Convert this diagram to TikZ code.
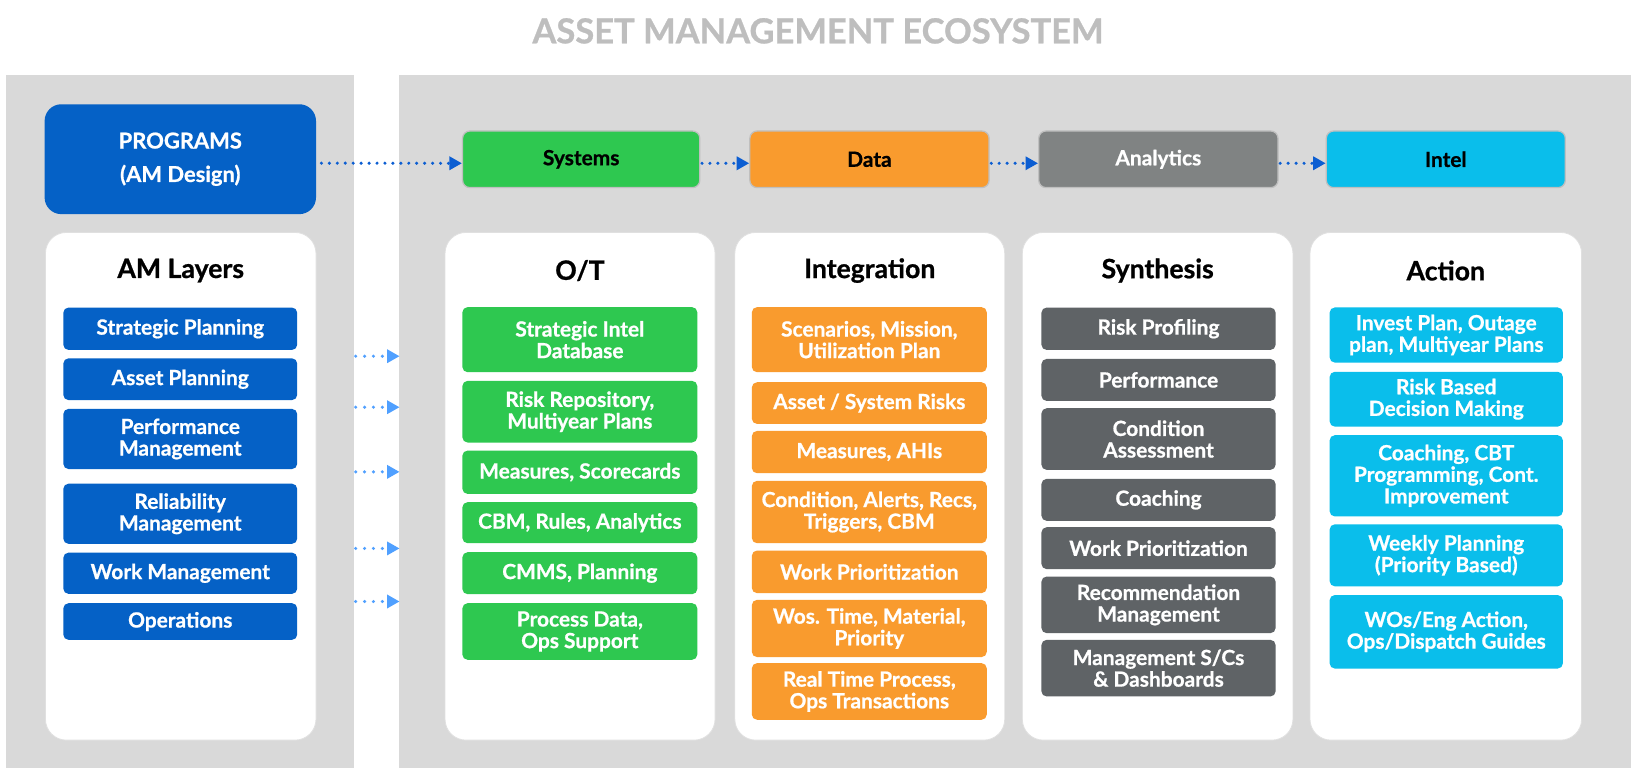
\documentclass[tikz,border=0pt]{standalone}
\usepackage{fontspec}
\setmainfont{Lato}[BoldFeatures={FakeBold=0.8}]
\usetikzlibrary{arrows.meta}
\definecolor{panelgray}{RGB}{217,217,217}
\definecolor{progblue}{RGB}{5,97,198}
\definecolor{amgreen}{RGB}{46,200,80}
\definecolor{amorange}{RGB}{249,155,46}
\definecolor{amgray}{RGB}{128,131,131}
\definecolor{amdark}{RGB}{95,99,102}
\definecolor{amcyan}{RGB}{10,190,235}
\definecolor{titlegray}{RGB}{190,190,190}
\definecolor{arrowblue}{RGB}{12,94,210}
\definecolor{lightarrow}{RGB}{80,160,255}
\newcommand\mkbox[7]{%
  \node[#2, minimum width={#5pt-#3pt}, minimum height={#6pt-#4pt}] (#1) at ({(#3+#5)/2},{(#4+#6)/2}) {#7};}
\tikzset{
  inner/.style={rounded corners=5pt, inner sep=0pt, align=center, text=white,
    font=\bfseries\fontsize{20}{20.7}\selectfont},
  layerbox/.style={inner, fill=progblue},
  otbox/.style={inner, fill=amgreen},
  intbox/.style={inner, fill=amorange},
  synbox/.style={inner, fill=amdark},
  actbox/.style={inner, fill=amcyan},
  topbox/.style={rounded corners=7pt, inner sep=0pt, align=center, draw=black!25, line width=1.2pt,
    font=\bfseries\fontsize{20}{22}\selectfont},
  whitebox/.style={rounded corners=20pt, inner sep=0pt, fill=white, draw=black!12, line width=0.8pt},
  heading/.style={font=\bfseries\fontsize{25.5}{28}\selectfont, text=black, inner sep=0pt},
  dotarrow/.style={draw=arrowblue, line width=3.3pt, line cap=round, dash pattern=on 0pt off 7.6pt,
    -{Triangle[length=12pt,width=12.5pt]}},
  lightdot/.style={dotarrow, draw=lightarrow, dash pattern=on 0pt off 8.5pt},
}
\begin{document}
\begin{tikzpicture}[x=1pt,y=-1pt]
\fill[white] (0,0) rectangle (1568,742.8);
\useasboundingbox (0,0) rectangle (1568,742.8);
% title
\node[anchor=base, inner sep=0pt, text=titlegray, font=\bfseries\fontsize{33}{38}\selectfont] (title) at (783,41.5) {ASSET MANAGEMENT ECOSYSTEM};
% gray panels
\fill[panelgray] (5.7,71.8) rectangle (338.8,735.5);
\fill[panelgray] (382,71.8) rectangle (1561.5,735.5);
% programs
\mkbox{prog}{rounded corners=16pt, inner sep=0pt, fill=progblue, text=white, align=center, font=\bfseries\fontsize{21}{22}\selectfont}{42.7}{99.8}{302.5}{205}{PROGRAMS\\[10pt](AM Design)}
% top boxes
\mkbox{sys}{topbox, fill=amgreen, text=black}{442.8}{125.4}{669.9}{179.6}{Systems}
\mkbox{data}{topbox, fill=amorange, text=black}{717.8}{125.4}{946.8}{179.6}{Data}
\mkbox{ana}{topbox, fill=amgray, text=white}{994.3}{125.4}{1223.4}{179.6}{Analytics}
\mkbox{intel}{topbox, fill=amcyan, text=black}{1269.6}{125.4}{1498.4}{179.6}{Intel}
% arrows top
\draw[dotarrow, shorten <=5pt] ([yshift=-3.8pt]prog.east) -- ([yshift=-3.8pt]sys.west);
\draw[dotarrow, shorten <=1.5pt] ([yshift=-3.8pt]sys.east) -- ([yshift=-3.8pt]data.west);
\draw[dotarrow, shorten <=1.5pt] ([yshift=-3.8pt]data.east) -- ([yshift=-3.8pt]ana.west);
\draw[dotarrow, shorten <=1.5pt] ([yshift=-3.8pt]ana.east) -- ([yshift=-3.8pt]intel.west);
% white column boxes
\mkbox{amw}{whitebox}{43.5}{222.5}{302.5}{708.5}{}
\mkbox{otw}{whitebox}{426}{222.5}{684.5}{708.5}{}
\mkbox{intw}{whitebox}{703.4}{222.5}{961.8}{708.5}{}
\mkbox{synw}{whitebox}{978.6}{222.5}{1237.7}{708.5}{}
\mkbox{actw}{whitebox}{1254}{222.5}{1514}{708.5}{}
% headings
\node[heading] (amh) at (173,259) {AM Layers};
\node[heading] (oth) at (555.2,259) {O/T};
\node[heading] (inth) at (832.6,259) {Integration};
\node[heading] (synh) at (1108.2,259) {Synthesis};
\node[heading] (acth) at (1384,259) {Action};
% AM layers
\mkbox{l1}{layerbox}{60.6}{294.4}{284.5}{335}{Strategic Planning}
\mkbox{l2}{layerbox}{60.6}{343}{284.5}{383}{Asset Planning}
\mkbox{l3}{layerbox}{60.6}{391.4}{284.5}{449}{Performance\\Management}
\mkbox{l4}{layerbox}{60.6}{463}{284.5}{520.6}{Reliability\\Management}
\mkbox{l5}{layerbox}{60.6}{529}{284.5}{568.5}{Work Management}
\mkbox{l6}{layerbox}{60.6}{577.4}{284.5}{612.5}{Operations}
% O/T
\mkbox{o1}{otbox}{442.6}{294}{667.5}{356.3}{Strategic Intel\\Database}
\mkbox{o2}{otbox}{442.6}{364.6}{667.5}{423.6}{Risk Repository,\\Multiyear Plans}
\mkbox{o3}{otbox}{442.6}{431.3}{667.5}{472.8}{Measures, Scorecards}
\mkbox{o4}{otbox}{442.6}{480.7}{667.5}{520}{CBM, Rules, Analytics}
\mkbox{o5}{otbox}{442.6}{528.6}{667.5}{568.8}{CMMS, Planning}
\mkbox{o6}{otbox}{442.6}{577.4}{667.5}{631.6}{Process Data,\\Ops Support}
% Integration
\mkbox{i1}{intbox}{719.7}{294}{944.6}{356.3}{Scenarios, Mission,\\Utilization Plan}
\mkbox{i2}{intbox}{719.7}{365.9}{944.6}{405.8}{Asset / System Risks}
\mkbox{i3}{intbox}{719.7}{412.5}{944.6}{453}{Measures, AHIs}
\mkbox{i4}{intbox}{719.7}{460.3}{944.6}{520}{Condition, Alerts, Recs,\\Triggers, CBM}
\mkbox{i5}{intbox}{719.7}{527}{944.6}{567.8}{Work Prioritization}
\mkbox{i6}{intbox}{719.7}{574.2}{944.6}{629}{Wos. Time, Material,\\Priority}
\mkbox{i7}{intbox}{719.7}{634.8}{944.6}{689}{Real Time Process,\\Ops Transactions}
% Synthesis
\mkbox{s1}{synbox}{996.9}{294.4}{1221.1}{335}{Risk Profiling}
\mkbox{s2}{synbox}{996.9}{343.6}{1221.1}{383.8}{Performance}
\mkbox{s3}{synbox}{996.9}{390.8}{1221.1}{449.8}{Condition\\Assessment}
\mkbox{s4}{synbox}{996.9}{458.4}{1221.1}{498.6}{Coaching}
\mkbox{s5}{synbox}{996.9}{504.7}{1221.1}{544.8}{Work Prioritization}
\mkbox{s6}{synbox}{996.9}{551.9}{1221.1}{606.1}{Recommendation\\Management}
\mkbox{s7}{synbox}{996.9}{612.5}{1221.1}{666.7}{Management S/Cs\\\& Dashboards}
% Action
\mkbox{a1}{actbox}{1272.8}{294.3}{1496.1}{347.1}{Invest Plan, Outage\\plan, Multiyear Plans}
\mkbox{a2}{actbox}{1272.8}{355.9}{1496.1}{408.4}{Risk Based\\Decision Making}
\mkbox{a3}{actbox}{1272.8}{416.6}{1496.1}{494.4}{Coaching, CBT\\Programming, Cont.\\Improvement}
\mkbox{a4}{actbox}{1272.8}{501.9}{1496.1}{561.3}{Weekly Planning\\(Priority Based)}
\mkbox{a5}{actbox}{1272.8}{569.6}{1496.1}{640}{WOs/Eng Action,\\Ops/Dispatch Guides}
% left dotted arrows
\coordinate (la1s) at (340.5,341);   \coordinate (la1e) at (382.5,341);
\coordinate (la2s) at (340.5,389.8); \coordinate (la2e) at (382.5,389.8);
\coordinate (la3s) at (340.5,451.7); \coordinate (la3e) at (382.5,451.7);
\coordinate (la4s) at (340.5,525);   \coordinate (la4e) at (382.5,525);
\coordinate (la5s) at (340.5,575.8); \coordinate (la5e) at (382.5,575.8);
\draw[lightdot] (la1s) -- (la1e);
\draw[lightdot] (la2s) -- (la2e);
\draw[lightdot] (la3s) -- (la3e);
\draw[lightdot] (la4s) -- (la4e);
\draw[lightdot] (la5s) -- (la5e);
\end{tikzpicture}
\end{document}
